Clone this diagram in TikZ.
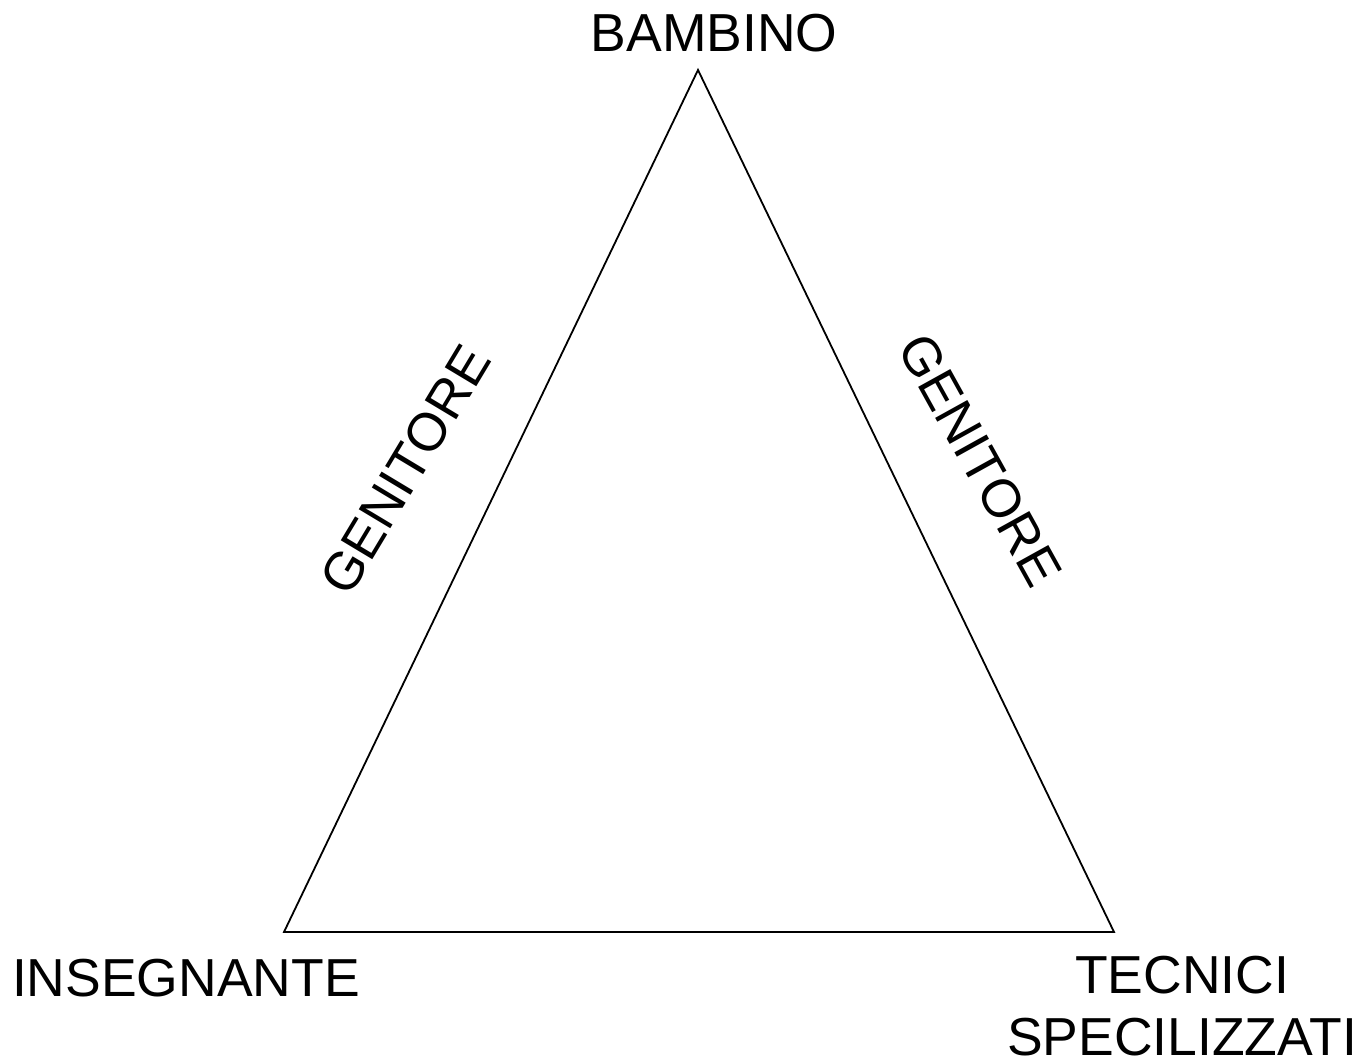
\documentclass[tikz,border=0pt]{standalone}
\usepackage{fontspec}
\setmainfont{Liberation Sans}
\begin{document}
\begin{tikzpicture}[x=1pt,y=1pt,
  lbl/.style={font=\fontsize{53.5}{62}\selectfont, inner sep=0pt},
  edge/.style={line width=1.8pt, line join=miter}]
\useasboundingbox (0,0) rectangle (1364,1062);
\coordinate (top) at (698,992);
\coordinate (left) at (284,130);
\coordinate (right) at (1114,130);
\draw[edge] (top) -- (left) -- (right) -- cycle;
\node[lbl, anchor=base] (bambino) at (714,1010) {BAMBINO};
\node[lbl, anchor=base] (insegnante) at (186,65) {INSEGNANTE};
\node[lbl, anchor=base, align=center] (tecnici) at (1182,7) {TECNICI\\SPECILIZZATI};
\node[lbl, rotate=59] (genl) at (405,592) {GENITORE};
\node[lbl, rotate=-61] (genr) at (980,602) {GENITORE};
\end{tikzpicture}
\end{document}
